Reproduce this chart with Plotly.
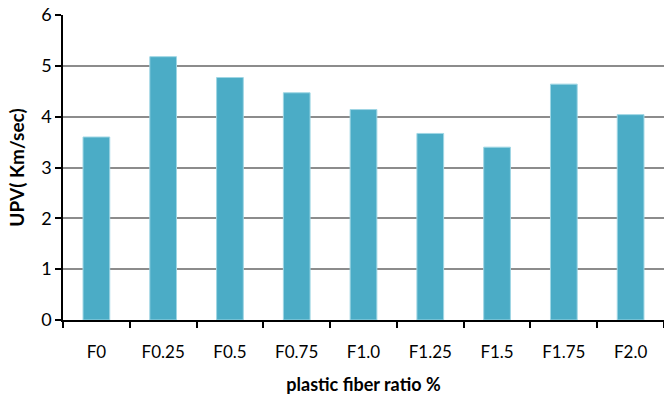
import plotly.graph_objects as go

categories = ["F0", "F0.25", "F0.5", "F0.75", "F1.0", "F1.25", "F1.5", "F1.75", "F2.0"]
upv = [3.60, 5.18, 4.77, 4.47, 4.14, 3.67, 3.40, 4.64, 4.04]
y_ticks = [0, 1, 2, 3, 4, 5, 6]

FONT = "Lato, sans-serif"

fig = go.Figure(
    go.Bar(
        x=categories,
        y=upv,
        marker=dict(color="#4BACC6", line=dict(color="#9FD6E4", width=1)),
    )
)

fig.update_layout(
    width=664,
    height=397,
    margin=dict(l=63, r=0, t=15, b=77),
    paper_bgcolor="white",
    plot_bgcolor="white",
    bargap=0.6,
    showlegend=False,
    font=dict(family=FONT, size=17, color="black"),
)

fig.update_xaxes(
    type="category",
    showline=True,
    linecolor="black",
    linewidth=1.5,
    ticks="outside",
    tickson="boundaries",
    ticklen=6,
    tickcolor="black",
    tickwidth=1.5,
    ticklabelstandoff=16,
    tickfont=dict(family=FONT, size=17),
    title=dict(
        text="<b>plastic fiber ratio %</b>",
        font=dict(family=FONT, size=18),
        standoff=17,
    ),
)

fig.update_yaxes(
    range=[0, 6],
    tickvals=y_ticks,
    showline=True,
    linecolor="black",
    linewidth=1.5,
    ticks="outside",
    ticklen=6,
    tickcolor="black",
    tickwidth=1.5,
    showgrid=True,
    gridcolor="#8C8C8C",
    gridwidth=1.5,
    zeroline=False,
    tickfont=dict(family=FONT, size=18),
    title=dict(
        text="<b>UPV( Km/sec)</b>",
        font=dict(family=FONT, size=19),
        standoff=12,
    ),
)

fig.write_html("out.html")
